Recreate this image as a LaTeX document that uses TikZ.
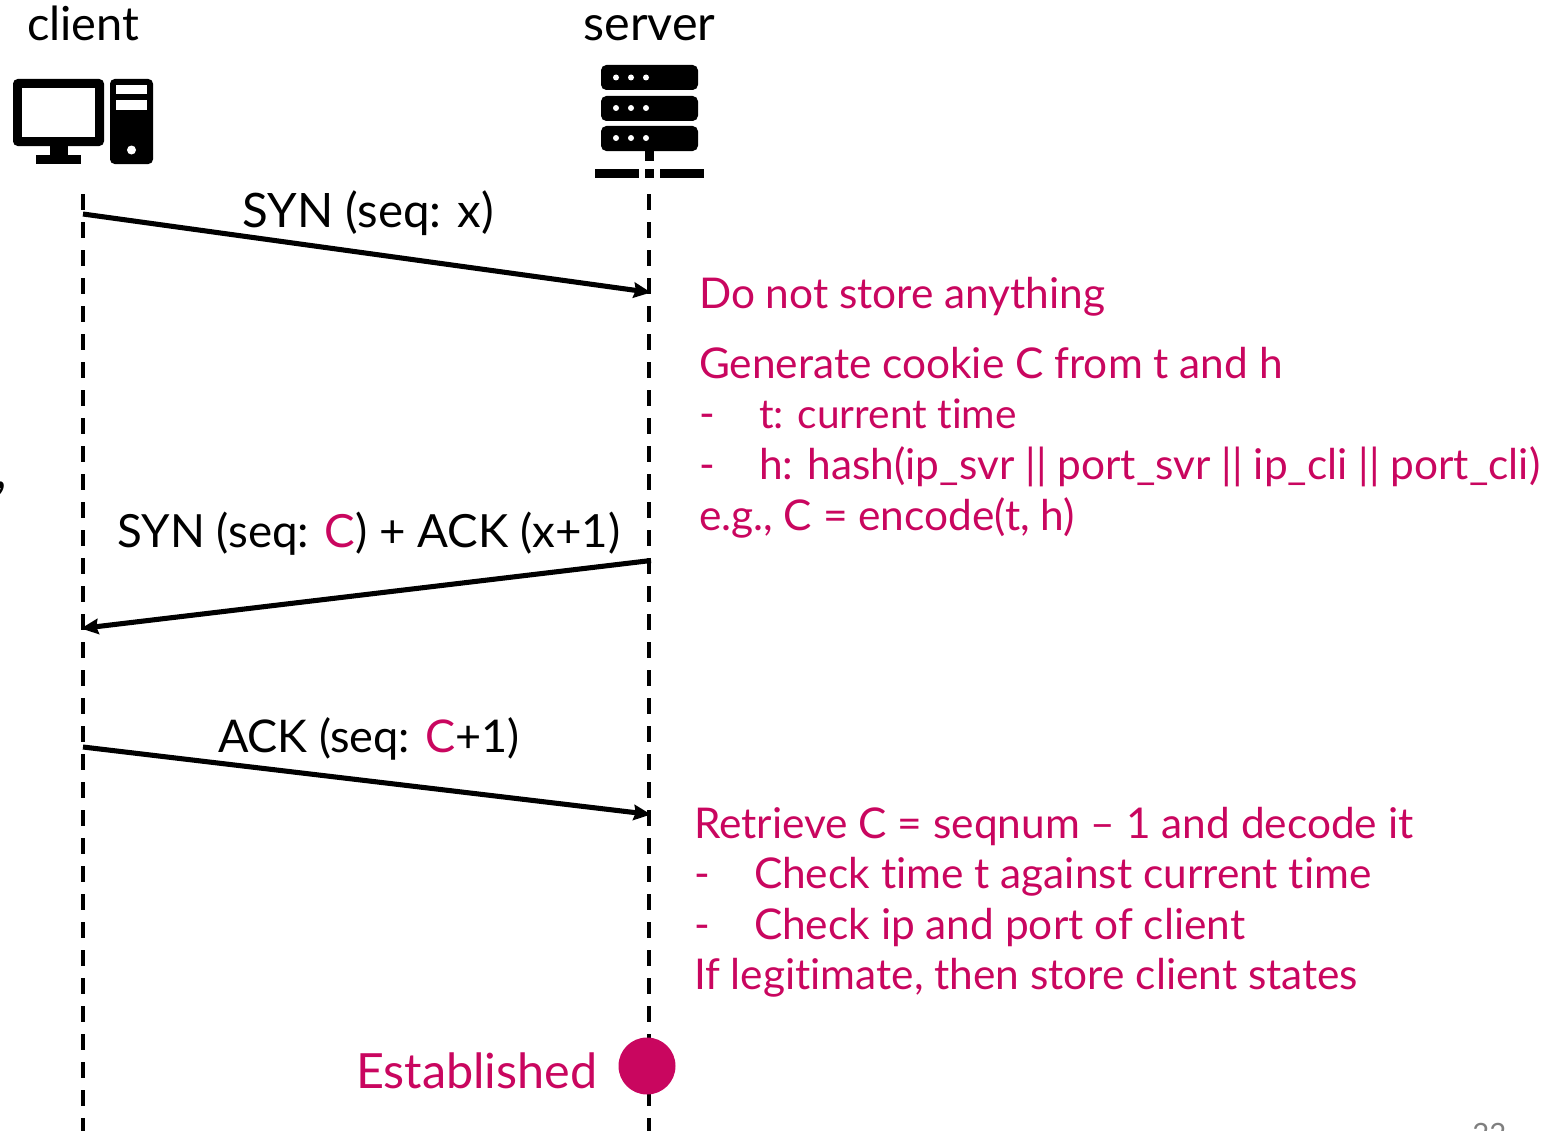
\documentclass[tikz,border=0pt]{standalone}
\usepackage{fontspec}
\setmainfont{Lato}[Ligatures=NoCommon]
\usetikzlibrary{arrows.meta}
\definecolor{accent}{HTML}{C9065F}
\definecolor{pagegray}{HTML}{7F7F7F}
\newcommand{\fs}[1]{\fontsize{#1}{#1}\selectfont}
\tikzset{
  x=0.75pt,y=-0.75pt,
  lbl/.style={anchor=base west,inner sep=0pt,outer sep=0pt,text=black,font=\fs{35}},
  note/.style={anchor=base west,inner sep=0pt,outer sep=0pt,text=accent,font=\fs{31.8}},
  lifeline/.style={line width=3pt,dash pattern=on 12pt off 9pt},
  msg/.style={line width=3.8pt,-{Stealth[length=13pt,width=11.5pt,inset=1.5pt]}},
  icon/.style={fill=black,draw=none},
  hole/.style={fill=white,draw=none},
}
\begin{document}
\begin{tikzpicture}
\useasboundingbox (0,0) rectangle (1557,1131);
\clip (0,0) rectangle (1557,1131);
% lifelines
\coordinate (cliTop) at (83,194);
\coordinate (cliBot) at (83,1131);
\coordinate (svrTop) at (649,194);
\coordinate (svrBot) at (649,1131);
\draw[lifeline] (cliTop) -- (cliBot);
\draw[lifeline] (svrTop) -- (svrBot);
% message end points
\coordinate (m1a) at (83,214);
\coordinate (m1b) at (651,292.5);
\coordinate (m2a) at (651,560.5);
\coordinate (m2b) at (81,628.5);
\coordinate (m3a) at (83,747);
\coordinate (m3b) at (651,814.5);
\draw[msg] (m1a) -- (m1b);
\draw[msg] (m2a) -- (m2b);
\draw[msg] (m3a) -- (m3b);
% client icon
\fill[icon,rounded corners=3.5pt] (13,79) rectangle (104,146);
\fill[hole] (22,88) rectangle (95,137);
\fill[icon] (50,146) rectangle (68,155);
\fill[icon] (36,155) rectangle (81,164);
\fill[icon,rounded corners=3.5pt] (110,79) rectangle (153,164);
\fill[hole] (116,85) rectangle (147,94);
\fill[hole] (116,100) rectangle (147,110);
\fill[hole] (131.5,150) circle[radius=4.5];
% server icon
\foreach \t/\c in {65/77.5,96/108,126/138}{
  \fill[icon,rounded corners=4pt] (601,\t) rectangle (698,\t+25);
  \foreach \d in {616,631,646}{\fill[hole] (\d,\c) circle[radius=3];}
}
\fill[icon] (645,150) rectangle (654,161);
\fill[icon] (595,168.5) rectangle (639,177.5);
\fill[icon] (645,168.5) rectangle (654,177.5);
\fill[icon] (660,168.5) rectangle (704,177.5);
% established marker
\node[circle,fill=accent,draw=none,minimum size=42.75pt,inner sep=0pt] (estDot) at (647,1066) {};
% labels
\node[lbl,font=\fs{35.2}] (client) at (27,41) {client};
\node[lbl,font=\fs{36.4}] (server) at (583.5,41) {server};
\node[lbl,font=\fs{35.6}] (l1) at (242.5,227) {SYN (seq: x)};
\node[lbl,font=\fs{34.3}] (l2) at (117.5,547) {SYN (seq: \textcolor{accent}{C}) + ACK (x+1)};
\node[lbl,font=\fs{33.8}] (l3) at (218,752) {ACK (seq: \textcolor{accent}{C}+1)};
\node[note] (n1) at (699,308) {Do not store anything};
\node[note] (n2) at (699,378) {Generate cookie C from t and h};
\node[note] (n3d) at (699,428) {-};
\node[note,font=\fs{30.5}] (n3) at (759,428) {t: current time};
\node[note] (n4d) at (699,479) {-};
\node[note] (n4) at (759,479) {h: hash(ip\_svr || port\_svr || ip\_cli || port\_cli)};
\node[note] (n5) at (699,530) {e.g., C = encode(t, h)};
\node[note] (n6) at (694,838) {Retrieve C = seqnum – 1 and decode it};
\node[note] (n7d) at (694,888) {-};
\node[note] (n7) at (754,888) {Check time t against current time};
\node[note] (n8d) at (694,939) {-};
\node[note] (n8) at (754,939) {Check ip and port of client};
\node[note] (n9) at (694,989) {If legitimate, then store client states};
\node[note,font=\fs{36.4}] (est) at (356,1088.5) {Established};
\node[lbl,font=\fs{42}] (comma) at (-5,488) {,};
\node[anchor=base west,inner sep=0pt,text=pagegray,font=\fs{22}] (pg) at (1472,1144) {22};
\end{tikzpicture}
\end{document}
